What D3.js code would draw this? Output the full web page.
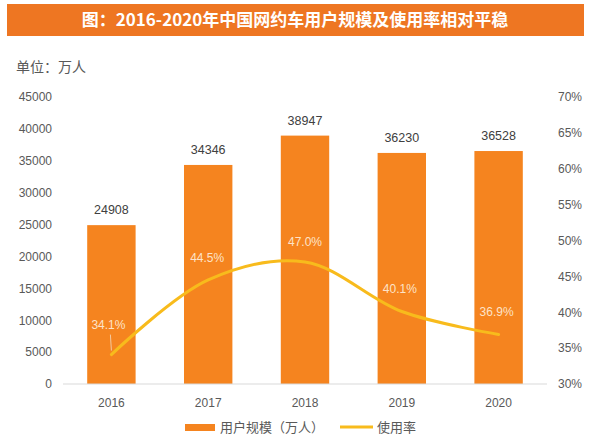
<!DOCTYPE html>
<html>
<head>
<meta charset="utf-8">
<script src="https://cdn.jsdelivr.net/npm/d3@7"></script>
<style>
  body { margin: 0; background: #fff; font-family: "Noto Sans CJK SC", "Noto Sans", sans-serif; }
</style>
</head>
<body>
<div class="chart"></div>
<script>
// data
var years = ["2016", "2017", "2018", "2019", "2020"];
var users = [24908, 34346, 38947, 36230, 36528];
var rates = [34.1, 44.5, 47.0, 40.1, 36.9];
var leftTicks = [0, 5000, 10000, 15000, 20000, 25000, 30000, 35000, 40000, 45000];
var rightTicks = [30, 35, 40, 45, 50, 55, 60, 65, 70];

var svgWidth = 591;
var svgHeight = 448;

var margin = { top: 97, bottom: 64, left: 63, right: 44 };
var chartWidth = svgWidth - margin.left - margin.right;
var chartHeight = svgHeight - margin.top - margin.bottom;

var barColor = "#F5841F";
var lineColor = "#F8BB1C";
var textColor = "#595959";

var svg = d3.select(".chart")
    .append("svg")
    .attr("width", svgWidth)
    .attr("height", svgHeight);

// title bar
svg.append("rect")
    .attr("x", 7).attr("y", 4)
    .attr("width", 577).attr("height", 32)
    .attr("fill", "#EE7622");
svg.append("text")
    .attr("x", 295).attr("y", 26)
    .attr("text-anchor", "middle")
    .attr("fill", "#fff")
    .attr("font-size", "17px")
    .attr("font-weight", "bold")
    .text("图：2016-2020年中国网约车用户规模及使用率相对平稳");

svg.append("text")
    .attr("x", 16).attr("y", 72)
    .attr("fill", textColor)
    .attr("font-size", "14px")
    .text("单位：万人");

var chartGroup = svg.append("g")
    .attr("transform", `translate(${margin.left}, ${margin.top})`);

// scales
var xScale = d3.scaleBand()
    .domain(years)
    .range([0, chartWidth])
    .paddingInner(0.5)
    .paddingOuter(0.25);

var yLeft = d3.scaleLinear()
    .domain([0, 45000])
    .range([chartHeight, 0]);

var yRight = d3.scaleLinear()
    .domain([30, 70])
    .range([chartHeight, 0]);

// axes
var leftAxis = d3.axisLeft(yLeft).tickValues(leftTicks).tickSize(0).tickPadding(11)
    .tickFormat(d3.format("d"));
var rightAxis = d3.axisRight(yRight).tickValues(rightTicks).tickSize(0).tickPadding(11)
    .tickFormat(d => d + "%");
var bottomAxis = d3.axisBottom(xScale).tickSize(0).tickPadding(14);

var gl = chartGroup.append("g").call(leftAxis);
var gr = chartGroup.append("g").attr("transform", `translate(${chartWidth}, 0)`).call(rightAxis);
var gb = chartGroup.append("g").attr("transform", `translate(0, ${chartHeight})`).call(bottomAxis);

[gl, gr, gb].forEach(function(g) {
    g.select(".domain").remove();
    g.selectAll("text")
        .attr("fill", textColor)
        .attr("font-size", "12px")
        .attr("font-family", "Liberation Sans, Arial, sans-serif");
});

// bars
chartGroup.selectAll(".bar")
    .data(users)
    .enter()
    .append("rect")
    .attr("class", "bar")
    .attr("x", (d, i) => xScale(years[i]))
    .attr("y", d => yLeft(d))
    .attr("width", xScale.bandwidth())
    .attr("height", d => chartHeight - yLeft(d))
    .attr("fill", barColor);

// baseline
chartGroup.append("line")
    .attr("x1", 0).attr("x2", chartWidth)
    .attr("y1", chartHeight).attr("y2", chartHeight)
    .attr("stroke", "#D9D9D9")
    .attr("stroke-width", 1);

// bar labels
chartGroup.selectAll(".barLabel")
    .data(users)
    .enter()
    .append("text")
    .attr("class", "barLabel")
    .attr("x", (d, i) => xScale(years[i]) + xScale.bandwidth() / 2)
    .attr("y", d => yLeft(d) - 11)
    .attr("text-anchor", "middle")
    .attr("fill", "#404040")
    .attr("font-size", "12.5px")
    .attr("font-family", "Liberation Sans, Arial, sans-serif")
    .text(d => d);

// rate line
var cx = (d, i) => xScale(years[i]) + xScale.bandwidth() / 2;
var line = d3.line()
    .x(cx)
    .y(d => yRight(d))
    .curve(d3.curveCatmullRom.alpha(0.5));

chartGroup.append("path")
    .datum(rates)
    .attr("d", line)
    .attr("fill", "none")
    .attr("stroke", lineColor)
    .attr("stroke-width", 3)
    .attr("stroke-linecap", "round");

// rate labels
var labelOffset = [26, 18, 16, 19, 18];
var labelShift = [-3, -1, 0, -2, -2];
chartGroup.selectAll(".rateLabel")
    .data(rates)
    .enter()
    .append("text")
    .attr("class", "rateLabel")
    .attr("x", (d, i) => cx(d, i) + labelShift[i])
    .attr("y", (d, i) => yRight(d) - labelOffset[i])
    .attr("text-anchor", "middle")
    .attr("fill", "#FDE3C8")
    .attr("font-size", "12px")
    .attr("font-family", "Liberation Sans, Arial, sans-serif")
    .text(d => d.toFixed(1) + "%");

// leader line for first label
chartGroup.append("line")
    .attr("x1", cx(rates[0], 0) - 1).attr("x2", cx(rates[0], 0))
    .attr("y1", yRight(rates[0]) - 20).attr("y2", yRight(rates[0]) - 4)
    .attr("stroke", "#F3C9A0")
    .attr("stroke-width", 1);

// legend
var legend = svg.append("g").attr("transform", "translate(0, 427)");
legend.append("rect")
    .attr("x", 185).attr("y", -3)
    .attr("width", 30).attr("height", 7)
    .attr("fill", barColor);
legend.append("text")
    .attr("x", 220).attr("y", 5)
    .attr("fill", textColor)
    .attr("font-size", "13px")
    .text("用户规模（万人）");
legend.append("line")
    .attr("x1", 340).attr("x2", 373)
    .attr("y1", 0).attr("y2", 0)
    .attr("stroke", lineColor)
    .attr("stroke-width", 3);
legend.append("text")
    .attr("x", 377).attr("y", 5)
    .attr("fill", textColor)
    .attr("font-size", "13px")
    .text("使用率");
</script>
</body>
</html>
